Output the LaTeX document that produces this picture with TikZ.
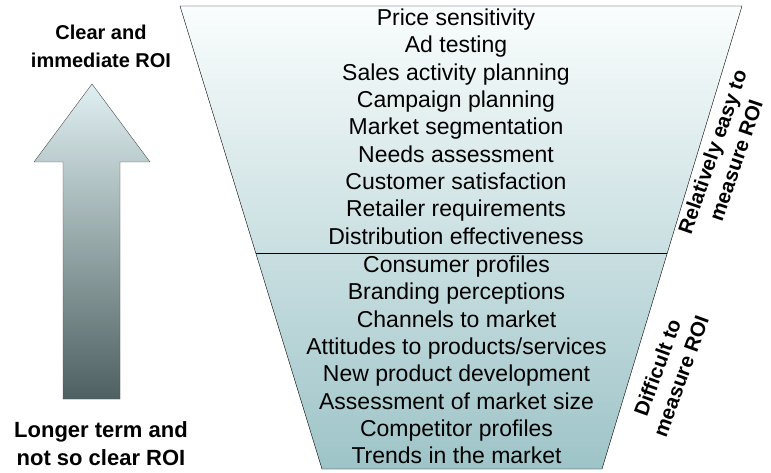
\documentclass[tikz,border=0pt]{standalone}
\usepackage{fontspec}
\setmainfont{Liberation Sans}
\usetikzlibrary{positioning,matrix,calc}

\definecolor{funneltop}{RGB}{250,253,253}
\definecolor{funnelbot}{RGB}{158,196,200}
\definecolor{arrowtop}{RGB}{224,240,242}
\definecolor{arrowbot}{RGB}{78,96,97}

\begin{document}
\begin{tikzpicture}[x=1pt,y=1pt,
    item/.style={minimum height=27.3pt,inner sep=0pt,text height=16.5pt,text depth=5pt,
      font=\fontsize{23}{27}\selectfont},
    roi/.style={font=\fontsize{20.5}{25}\selectfont\bfseries,align=center,inner sep=0pt}]
  \useasboundingbox (0,0) rectangle (771,472);

  \coordinate (tl) at (180,466);
  \coordinate (tr) at (742,466);
  \coordinate (br) at (602,3);
  \coordinate (bl) at (322,3);
  \coordinate (dl) at ($(tl)!0.5335!(bl)$);
  \coordinate (dr) at ($(tr)!0.5335!(br)$);
  \path[draw, top color=funneltop, bottom color=funnelbot]
    (tl) -- (tr) -- (br) -- (bl) -- cycle;
  \draw (dl) -- (dr);

  \matrix (easy) [matrix of nodes, nodes=item, inner sep=0pt, anchor=north, xshift=-5pt]
    at ($(tl)!0.5!(tr)$)
  { Price sensitivity \\ Ad testing \\ Sales activity planning \\
    Campaign planning \\ Market segmentation \\ Needs assessment \\
    Customer satisfaction \\ Retailer requirements \\ Distribution effectiveness \\ };
  \matrix (hard) [matrix of nodes, nodes=item, inner sep=0pt, anchor=north, xshift=-5pt]
    at ($(dl)!0.5!(dr)$)
  { Consumer profiles \\ Branding perceptions \\ Channels to market \\
    Attitudes to products/services \\ New product development \\
    Assessment of market size \\ Competitor profiles \\ Trends in the market \\ };

  \node[roi, rotate=71] (easyroi) at (724,316) {Relatively easy to\\measure ROI};
  \node[roi, rotate=70] (hardroi) at (669,100) {Difficult to\\measure ROI};

  \coordinate (tip) at (92,388);
  \path[draw=gray!60!black, top color=arrowtop, bottom color=arrowbot]
    (tip) -- (150,310) -- (120,310) -- (120,73) -- (63,73) -- (63,310)
    -- (34,310) -- cycle;

  \node[roi, font=\fontsize{20}{28}\selectfont\bfseries] (clear) at (101,426)
    {Clear and\\immediate ROI};
  \node[roi, font=\fontsize{22}{28}\selectfont\bfseries] (longer) at (101,28)
    {Longer term and\\not so clear ROI};
\end{tikzpicture}
\end{document}
